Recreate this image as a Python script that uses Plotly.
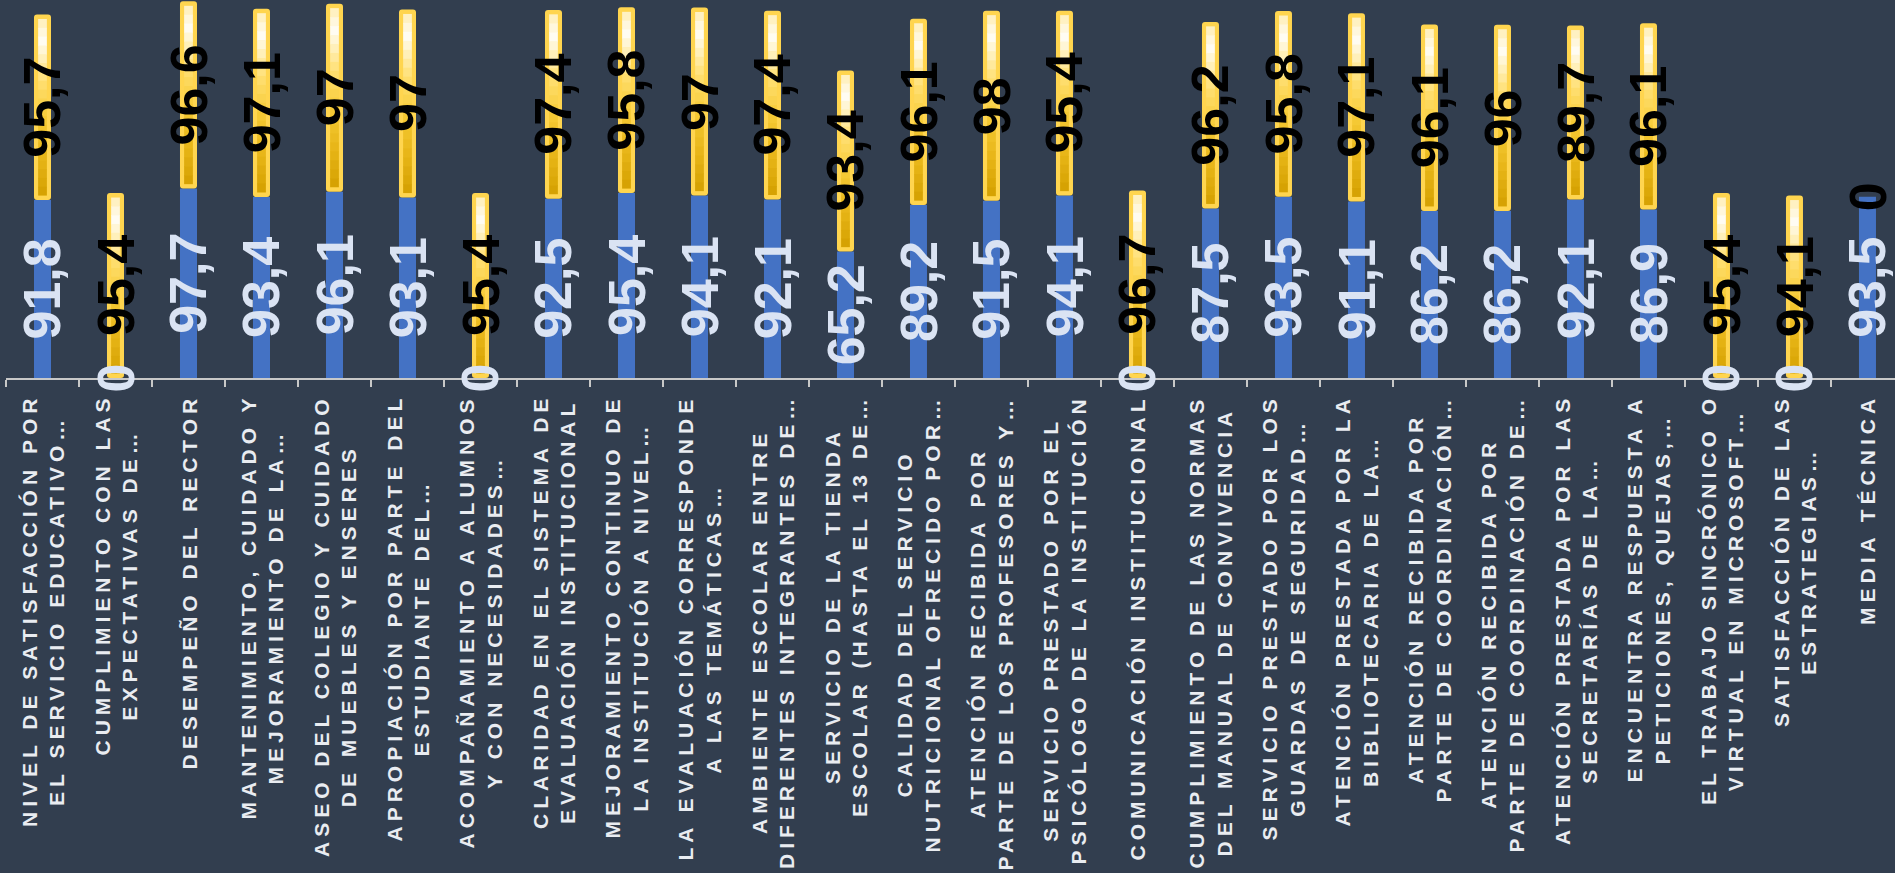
import plotly.graph_objects as go

categories = [
    "NIVEL DE SATISFACCIÓN POR<br>EL SERVICIO EDUCATIVO…",
    "CUMPLIMIENTO CON LAS<br>EXPECTATIVAS DE…",
    "DESEMPEÑO DEL RECTOR",
    "MANTENIMIENTO, CUIDADO Y<br>MEJORAMIENTO DE LA…",
    "ASEO DEL COLEGIO Y CUIDADO<br>DE MUEBLES Y ENSERES",
    "APROPIACIÓN POR PARTE DEL<br>ESTUDIANTE DEL…",
    "ACOMPAÑAMIENTO A ALUMNOS<br>Y CON NECESIDADES…",
    "CLARIDAD EN EL SISTEMA DE<br>EVALUACIÓN INSTITUCIONAL",
    "MEJORAMIENTO CONTINUO DE<br>LA INSTITUCIÓN A NIVEL…",
    "LA EVALUACIÓN CORRESPONDE<br>A LAS TEMÁTICAS…",
    "AMBIENTE ESCOLAR ENTRE<br>DIFERENTES INTEGRANTES DE…",
    "SERVICIO DE LA TIENDA<br>ESCOLAR (HASTA EL 13 DE…",
    "CALIDAD DEL SERVICIO<br>NUTRICIONAL OFRECIDO POR…",
    "ATENCIÓN RECIBIDA POR<br>PARTE DE LOS PROFESORES Y…",
    "SERVICIO PRESTADO POR EL<br>PSICÓLOGO DE LA INSTITUCIÓN",
    "COMUNICACIÓN INSTITUCIONAL",
    "CUMPLIMIENTO DE LAS NORMAS<br>DEL MANUAL DE CONVIVENCIA",
    "SERVICIO PRESTADO POR LOS<br>GUARDAS DE SEGURIDAD…",
    "ATENCIÓN PRESTADA POR LA<br>BIBLIOTECARIA DE LA…",
    "ATENCIÓN RECIBIDA POR<br>PARTE DE COORDINACIÓN…",
    "ATENCIÓN RECIBIDA POR<br>PARTE DE COORDINACIÓN DE…",
    "ATENCIÓN PRESTADA POR LAS<br>SECRETARÍAS DE LA…",
    "ENCUENTRA RESPUESTA A<br>PETICIONES, QUEJAS,…",
    "EL TRABAJO SINCRÓNICO O<br>VIRTUAL EN MICROSOFT…",
    "SATISFACCIÓN DE LAS<br>ESTRATEGIAS…",
    "MEDIA TÉCNICA",
]

serie_1 = [91.8, 0, 97.7, 93.4, 96.1, 93.1, 0, 92.5, 95.4, 94.1, 92.1, 65.2, 89.2,
           91.5, 94.1, 0, 87.5, 93.5, 91.1, 86.2, 86.2, 92.1, 86.9, 0, 0, 93.5]
serie_2 = [95.7, 95.4, 96.6, 97.1, 97, 97, 95.4, 97.4, 95.8, 97, 97.4, 93.4, 96.1,
           98, 95.4, 96.7, 96.2, 95.8, 97.1, 96.1, 96, 89.7, 96.1, 95.4, 94.1, 0]

BG = "#323e4f"
BLUE = "#4472c4"
GOLD = "#ffd54f"
AXIS = "#c8c8c8"
LABEL_FONT = "Liberation Sans, Arial, sans-serif"
BAR_W = 0.233
CORE_W = 0.12
INSET = 2.3

GRAD = [(0.0, (255, 238, 180)), (0.12, (255, 253, 245)), (0.35, (255, 224, 115)),
        (0.55, (247, 203, 55)), (0.8, (230, 180, 22)), (1.0, (212, 160, 0))]


def grad(t):
    for (t0, c0), (t1, c1) in zip(GRAD[:-1], GRAD[1:]):
        if t0 <= t <= t1:
            f = (t - t0) / (t1 - t0)
            c = [round(a + (b - a) * f) for a, b in zip(c0, c1)]
            return "rgb(%d,%d,%d)" % tuple(c)
    return "rgb(%d,%d,%d)" % GRAD[-1][1]


def fmt(v):
    return ("%g" % v).replace(".", ",")


fig = go.Figure()
fig.add_bar(x=categories, y=serie_1, width=BAR_W, name="Serie 1",
            marker=dict(color=BLUE, line=dict(width=0)))
fig.add_bar(x=categories, y=serie_2, base=serie_1, width=BAR_W, name="Serie 2",
            marker=dict(color=GOLD, line=dict(width=0), cornerradius=3))

N = 20
for i in range(N):
    t0, t1 = i / N, (i + 1) / N
    bases, heights = [], []
    for b, v in zip(serie_1, serie_2):
        if v <= 2 * INSET:
            bases.append(b)
            heights.append(0)
            continue
        core = v - 2 * INSET
        top = b + v - INSET
        hi = top - core * t0
        lo = max(top - core * t1 - 0.3, b + INSET)
        bases.append(lo)
        heights.append(hi - lo)
    fig.add_bar(x=categories, y=heights, base=bases, width=CORE_W,
                marker=dict(color=grad((t0 + t1) / 2), line=dict(width=0)),
                showlegend=False, hoverinfo="skip")

annotations = []
for c, b, v in zip(categories, serie_1, serie_2):
    annotations.append(dict(x=c, y=b / 2, xref="x", yref="y", text=fmt(b),
                            textangle=-90, showarrow=False, xanchor="center", yanchor="middle",
                            font=dict(family=LABEL_FONT, size=52, color="#dae3f3", weight="bold")))
    annotations.append(dict(x=c, y=b + v / 2, xref="x", yref="y", text=fmt(v),
                            textangle=-90, showarrow=False, xanchor="center", yanchor="middle",
                            font=dict(family=LABEL_FONT, size=52, color="#000000", weight="bold")))
    lines = c.split("<br>")
    txt = "<br>".join('<span style="letter-spacing:5px">%s</span>' % ln for ln in lines)
    annotations.append(dict(x=c, y=0, xref="x", yref="paper", text=txt, textangle=-90,
                            showarrow=False, xanchor="center", yanchor="top", align="center",
                            yshift=-14,
                            font=dict(family=LABEL_FONT, size=21, color="#e9ecf1", weight="bold")))

fig.update_layout(
    width=1895, height=873,
    paper_bgcolor=BG, plot_bgcolor=BG,
    margin=dict(l=6, r=0, t=0, b=495),
    barmode="overlay",
    showlegend=False,
    annotations=annotations,
    xaxis=dict(type="category", range=[-0.5, 25.377], showticklabels=False,
               tickson="boundaries", ticks="outside", ticklen=7, tickcolor=AXIS, tickwidth=1.5,
               showline=True, linecolor=AXIS, linewidth=1.5, showgrid=False, zeroline=False,
               fixedrange=True),
    yaxis=dict(range=[0, 195], showticklabels=False, showgrid=False, zeroline=False,
               showline=False, fixedrange=True),
)

fig.write_html("out.html")
